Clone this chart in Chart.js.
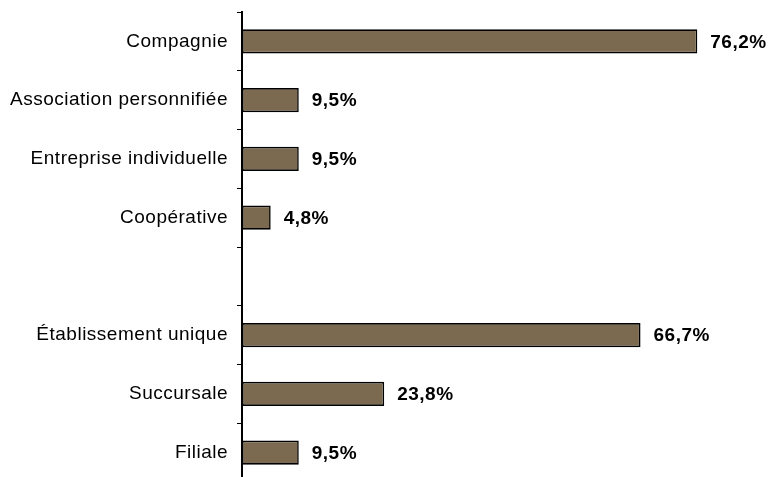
<!DOCTYPE html>
<html>
<head>
<meta charset="utf-8">
<script src="https://cdn.jsdelivr.net/npm/chart.js@4"></script>
<style>
    html, body { margin: 0; padding: 0; background: #fff; overflow: hidden; }
    #wrap { width: 769px; height: 482px; position: relative; }
</style>
</head>
<body>
<div id="wrap"><canvas id="legalChart"></canvas></div>
<script>
// categories (the empty one is the gap between the two groups)
const categories = [
    'Compagnie',
    'Association personnifiée',
    'Entreprise individuelle',
    'Coopérative',
    '',
    'Établissement unique',
    'Succursale',
    'Filiale'
];
// percentages per category
const shares = [76.2, 9.5, 9.5, 4.8, null, 66.7, 23.8, 9.5];

const FONT = "'Liberation Sans', Arial, sans-serif";

// draws "76,2%" style labels at the end of each bar
const valueLabels = {
    id: 'valueLabels',
    beforeDraw(chart) {
        chart.ctx.letterSpacing = '0.5px';
    },
    afterDatasetsDraw(chart) {
        const ctx = chart.ctx;
        const meta = chart.getDatasetMeta(0);
        ctx.save();
        ctx.font = 'bold 19px ' + FONT;
        ctx.fillStyle = '#000';
        ctx.textAlign = 'left';
        ctx.textBaseline = 'middle';
        meta.data.forEach((bar, i) => {
            const v = shares[i];
            if (v === null) return;
            const txt = v.toFixed(1).replace('.', ',') + '%';
            ctx.fillText(txt, bar.x + 13, bar.y + 1);
        });
        ctx.restore();
    }
};

const ctx = document.getElementById('legalChart').getContext('2d');
new Chart(ctx, {
    type: 'bar',
    data: {
        labels: categories,
        datasets: [{
            data: shares,
            backgroundColor: '#7b6a4f',
            borderColor: '#000',
            borderWidth: 1.6,
            borderSkipped: false,
            barPercentage: 0.41,
            categoryPercentage: 1
        }]
    },
    options: {
        indexAxis: 'y',
        responsive: true,
        maintainAspectRatio: false,
        animation: false,
        layout: { padding: { left: 0, top: 12, right: 49, bottom: 0 } },
        plugins: {
            legend: { display: false },
            tooltip: { enabled: false }
        },
        scales: {
            x: {
                display: false,
                min: 0,
                max: 80
            },
            y: {
                offset: true,
                grid: {
                    drawOnChartArea: false,
                    drawTicks: true,
                    tickLength: 5,
                    color: '#000',
                    lineWidth: 1,
                    offset: true
                },
                border: { color: '#000', width: 2 },
                ticks: {
                    color: '#000',
                    padding: 9,
                    font: { family: FONT, size: 19 }
                },
                afterFit(scale) {
                    scale.width = 242;
                    scale.paddingTop = 0;
                    scale.paddingBottom = 0;
                }
            }
        }
    },
    plugins: [valueLabels]
});
</script>
</body>
</html>
